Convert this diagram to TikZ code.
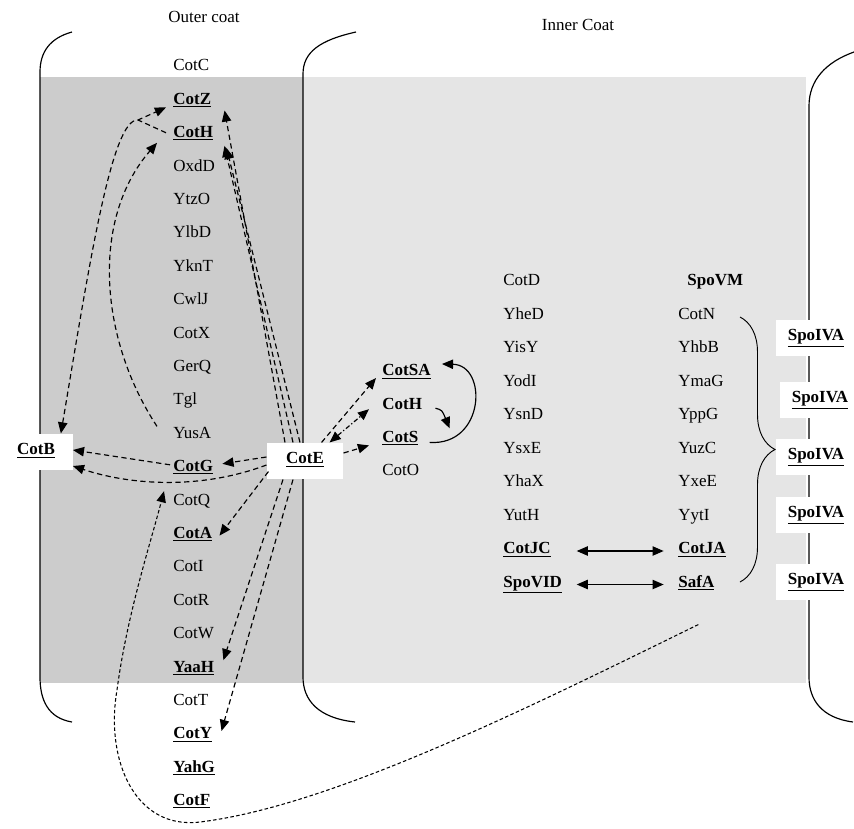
\documentclass[tikz,border=0pt]{standalone}
\usepackage{fontspec}
\setmainfont{Liberation Serif}
\usetikzlibrary{positioning, arrows.meta, calc, decorations.pathreplacing}

\definecolor{outergray}{RGB}{204,204,204}
\definecolor{innergray}{RGB}{229,229,229}
\newcommand{\kp}[1]{\textbf{\underline{#1}}}

\begin{document}
\begin{tikzpicture}[
    x=0.03cm, y=-0.03cm,
    >={Triangle[length=9.5pt,width=8pt]},
    prot/.style={
        anchor=west,
        inner sep=1pt,
        font=\fontsize{14.5}{16}\selectfont,
        text height=1.6ex,
        text depth=0.5ex
    },
    boxed/.style={
        prot,
        anchor=center,
        fill=white,
        minimum height=1.1cm
    },
    title/.style={
        font=\fontsize{14.5}{16}\selectfont
    },
    wall/.style={
        line width=1pt
    },
    dep/.style={
        ->,
        line width=1pt,
        dash pattern=on 4.5pt off 3pt
    },
    dashdotdep/.style={
        <->,
        line width=1pt,
        dash pattern=on 4pt off 2pt on 1pt off 2pt
    },
    loopdep/.style={
        ->,
        line width=0.9pt,
        dash pattern=on 3pt off 2pt
    },
    solid arrow/.style={
        ->,
        line width=1pt
    },
    pair/.style={
        <->,
        line width=1pt,
        shorten <=0.4cm,
        shorten >=0.4cm
    }
]
\useasboundingbox (0,0) rectangle (854,829);

% ===== layers =====
\fill[outergray] (40,77) rectangle (303,683);
\fill[innergray] (303,77) rectangle (806,683);

\draw[wall] (72,32) .. controls (50,38) and (40,52) .. (40,72) -- (40,677) .. controls (40,700) and (48,718) .. (72,722);
\draw[wall] (356,32) .. controls (320,40) and (303,52) .. (303,74) -- (303,677) .. controls (303,700) and (318,718) .. (355,722);
\draw[wall] (854,52) .. controls (826,62) and (809,80) .. (809,106) -- (809,677) .. controls (809,700) and (822,718) .. (853,722);

\node[title] (outerT) at (204,17) {Outer coat};
\node[title] (innerT) at (578,25) {Inner Coat};

% ===== outer coat proteins =====
\foreach \nm/\lab [count=\i from 0] in {cotC/CotC, cotZ/\kp{CotZ}, cotHo/\kp{CotH}, oxdD/OxdD, ytzO/YtzO, ylbD/YlbD, yknT/YknT, cwlJ/CwlJ, cotX/CotX, gerQ/GerQ, tgl/Tgl, yusA/YusA, cotG/\kp{CotG}, cotQ/CotQ, cotA/\kp{CotA}, cotI/CotI, cotR/CotR, cotW/CotW, yaaH/\kp{YaaH}, cotT/CotT, cotY/\kp{CotY}, yahG/\kp{YahG}, cotF/\kp{CotF}}
    \node[prot] (\nm) at (172, {68+33.4*\i}) {\lab};

\node[boxed, minimum width=2.2cm] (cotB) at (36,452) {\kp{CotB}};
\node[boxed, minimum width=2.3cm] (cotE) at (305,461) {\kp{CotE}};

% ===== inner coat proteins =====
\foreach \nm/\lab [count=\i from 0] in {cotSA/\kp{CotSA}, cotHi/\textbf{CotH}, cotS/\kp{CotS}, cotO/CotO}
    \node[prot] (\nm) at (381, {373+33.2*\i}) {\lab};

\foreach \nm/\lab [count=\i from 0] in {cotD/CotD, yheD/YheD, yisY/YisY, yodI/YodI, ysnD/YsnD, ysxE/YsxE, yhaX/YhaX, yutH/YutH, cotJC/\kp{CotJC}, spoVID/\kp{SpoVID}}
    \node[prot] (\nm) at (502, {283+33.5*\i}) {\lab};

\node[prot] (spoVM) at (686,283) {\textbf{SpoVM}};
\foreach \nm/\lab [count=\i from 1] in {cotN/CotN, yhbB/YhbB, ymaG/YmaG, yppG/YppG, yuzC/YuzC, yxeE/YxeE, yytI/YytI, cotJA/\kp{CotJA}, safA/\kp{SafA}}
    \node[prot] (\nm) at (677, {283+33.5*\i}) {\lab};

\coordinate (braceTop) at (740,317);
\coordinate (braceBot) at (740,582);
\draw[decorate, decoration={brace, amplitude=1.05cm}, line width=0.8pt] (braceTop) -- (braceBot);

\foreach \i/\x/\y in {1/816/338, 2/820/400, 3/816/457, 4/816/515, 5/816/582}
    \node[boxed, minimum width=2.4cm] (spoIVA\i) at (\x,\y) {\kp{SpoIVA}};

% ===== dependencies: CotE =====
\draw[dep] ($(cotE.north)+(-20,0)$) -- ($(cotZ.south east)+(12,2)$);
\draw[dep] ($(cotE.north)+(-12,0)$) -- ($(cotHo.south east)+(10,4)$);
\draw[dep] ($(cotE.north)+(-5,0)$) -- ($(cotHo.south east)+(12,6)$);
\draw[dep] ($(cotE.west)+(0,-4)$) -- ($(cotG.east)+(8,-5)$);
\draw[dep] ($(cotE.west)+(0,4)$) .. controls (200,490) and (130,485) .. ($(cotB.east)+(0,14)$);
\draw[dep] ($(cotE.south west)+(2,-8)$) -- ($(cotA.east)+(6,0)$);
\draw[dep] ($(cotE.south)+(-22,0)$) -- ($(yaaH.north east)+(8,-2)$);
\draw[dep] ($(cotE.south)+(-12,0)$) -- ($(cotY.north east)+(8,2)$);

\draw[dep] ($(cotE.north east)+(-22,0)$) -- ($(cotSA.west)+(-5,5)$);
\draw[dashdotdep] ($(cotE.north east)+(-14,0)$) -- ($(cotHi.west)+(-12,3)$);
\draw[dep] ($(cotE.east)+(0,-8)$) -- ($(cotS.west)+(-12,6)$);

% ===== dependencies: CotH, CotG =====
\coordinate (knot) at (138,120);
\draw[dep, <->] ($(cotB.north east)+(-12,0)$) .. controls (90,260) and (112,118) .. (knot) -- ($(cotZ.west)+(-6,6)$);
\draw[dep, -] ($(cotHo.north west)+(-6,5)$) -- (knot);
\draw[dep] ($(yusA.north west)+(-15,-2)$) .. controls (100,340) and (90,220) .. ($(cotHo.west)+(-15,8)$);
\draw[dep] ($(cotG.west)+(-2,-4)$) -- ($(cotB.east)+(0,-2)$);

% ===== inner coat links =====
\draw[solid arrow] ($(cotS.east)+(10,3)$) .. controls (485,446) and (488,365) .. ($(cotSA.east)+(10,-9)$);
\draw[solid arrow] ($(cotHi.east)+(12,2)$) .. controls (442,410) .. ($(cotS.north east)+(30,-4)$);
\draw[pair] (spoVID.east |- cotJC) -- (cotJA);
\draw[pair] (spoVID) -- (safA);

% ===== SafA loop =====
\coordinate (safTail) at ($(safA.south)+(2,33)$);
\draw[loopdep] (safTail) .. controls (520,712) and (330,806) .. (200,822)
    .. controls (135,830) and (105,760) .. (117,690)
    .. controls (127,615) and (150,545) .. ($(cotQ.north west)+(-8,-4)$);

\end{tikzpicture}
\end{document}
